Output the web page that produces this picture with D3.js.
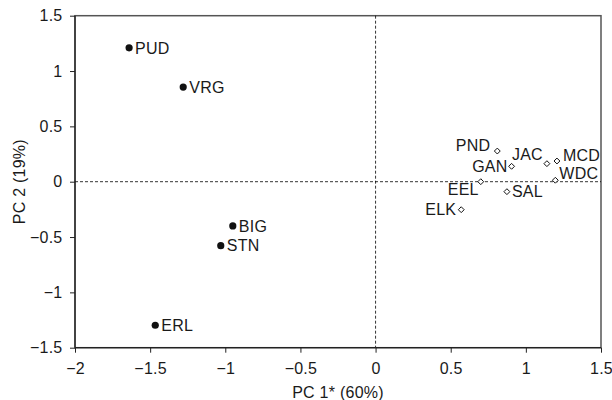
<!DOCTYPE html>
<html><head><meta charset="utf-8">
<script src="https://cdn.jsdelivr.net/npm/d3@7"></script>
<style>body{margin:0;background:#fff}svg{display:block;font-family:"Liberation Sans",Arial,sans-serif}</style>
</head><body>
<svg id="c" width="612" height="400"></svg>
<script>
// data
const groupA = ["PUD","VRG","BIG","STN","ERL"];
const groupA_pc1 = [-1.64,-1.28,-0.95,-1.03,-1.466];
const groupA_pc2 = [1.21,0.855,-0.40,-0.578,-1.297];
const groupB = ["PND","GAN","JAC","MCD","WDC","EEL","SAL","ELK"];
const groupB_pc1 = [0.81,0.905,1.14,1.207,1.196,0.70,0.874,0.57];
const groupB_pc2 = [0.277,0.139,0.163,0.187,0.013,0.0,-0.09,-0.253];
const xTicks = [-2,-1.5,-1,-0.5,0,0.5,1,1.5];
const yTicks = [-1.5,-1,-0.5,0,0.5,1,1.5];
const xTitle = "PC 1* (60%)";
const yTitle = "PC 2 (19%)";

// label placement (style)
const place = {
  PUD:[6,0,"start"],VRG:[6,0,"start"],BIG:[6,0,"start"],STN:[6,0,"start"],ERL:[6,0,"start"],
  PND:[-7,-6,"end"],GAN:[-4,0,"end"],JAC:[-4,-9,"end"],MCD:[6,-6,"start"],
  WDC:[4,-7,"start"],EEL:[-2,8,"end"],SAL:[5,0,"start"],ELK:[-5,0,"end"]
};
const FS = 16, LS = 0.25, TXT = "#1a1a1a";

const svg = d3.select("#c");
const m = {l:75,r:601,t:15.7,b:347.7};
const x = d3.scaleLinear().domain([-2,1.5]).range([m.l,m.r]);
const y = d3.scaleLinear().domain([-1.5,1.5]).range([m.b,m.t]);

// frame
svg.append("rect").attr("x",m.l).attr("y",m.t).attr("width",m.r-m.l).attr("height",m.b-m.t)
  .attr("fill","none").attr("stroke","#555").attr("stroke-width",1.5);

// zero lines
svg.append("line").attr("x1",x(0)).attr("x2",x(0)).attr("y1",m.t).attr("y2",m.b)
  .attr("stroke","#000").attr("stroke-width",0.8).attr("stroke-dasharray","3,2");
svg.append("line").attr("x1",m.l).attr("x2",m.r).attr("y1",y(0)).attr("y2",y(0))
  .attr("stroke","#000").attr("stroke-width",0.8).attr("stroke-dasharray","3,2");

const fmt = d => d3.format("")(d).replace("-","\u2212");
const xa = svg.append("g").attr("transform",`translate(0,${m.b})`)
  .call(d3.axisBottom(x).tickValues(xTicks).tickFormat(fmt).tickSize(5).tickPadding(10));
const ya = svg.append("g").attr("transform",`translate(${m.l},0)`)
  .call(d3.axisLeft(y).tickValues(yTicks).tickFormat(fmt).tickSize(5).tickPadding(7.5));
[xa,ya].forEach(a=>{
  a.selectAll("text").attr("font-size",FS).attr("letter-spacing",LS).attr("fill",TXT)
    .attr("font-family","Liberation Sans, Arial, sans-serif");
  a.selectAll(".tick line").attr("stroke","#222");
  a.selectAll(".domain").remove();
});
ya.append("line").attr("x1",0).attr("x2",0).attr("y1",m.t).attr("y2",m.b).attr("stroke","#222").attr("stroke-width",1.3);
xa.append("line").attr("x1",m.l).attr("x2",m.r).attr("y1",0).attr("y2",0).attr("stroke","#222").attr("stroke-width",1.3);

// titles
svg.append("text").attr("x",(m.l+m.r)/2).attr("y",398).attr("text-anchor","middle")
  .attr("font-size",FS).attr("letter-spacing",LS).attr("fill",TXT).text(xTitle);
svg.append("text").attr("transform",`translate(24.5,${(m.t+m.b)/2}) rotate(-90)`).attr("text-anchor","middle")
  .attr("font-size",FS).attr("letter-spacing",LS).attr("fill",TXT).text(yTitle);

// points
const A = groupA.map((n,i)=>({n,x:groupA_pc1[i],y:groupA_pc2[i]}));
const B = groupB.map((n,i)=>({n,x:groupB_pc1[i],y:groupB_pc2[i]}));
svg.selectAll(".a").data(A).enter().append("circle")
  .attr("cx",d=>x(d.x)).attr("cy",d=>y(d.y)).attr("r",3.6).attr("fill","#111");
const diamond = d3.symbol().type(d3.symbolDiamond2).size(22);
svg.selectAll(".b").data(B).enter().append("path")
  .attr("transform",d=>`translate(${x(d.x)},${y(d.y)})`).attr("d",diamond)
  .attr("fill","#fff").attr("stroke","#111").attr("stroke-width",1);

svg.selectAll(".lab").data(A.concat(B)).enter().append("text")
  .attr("x",d=>x(d.x)+place[d.n][0]).attr("y",d=>y(d.y)+place[d.n][1])
  .attr("dy","0.36em").attr("text-anchor",d=>place[d.n][2])
  .attr("font-size",FS).attr("letter-spacing",LS).attr("fill",TXT).text(d=>d.n);
</script>
</body></html>
